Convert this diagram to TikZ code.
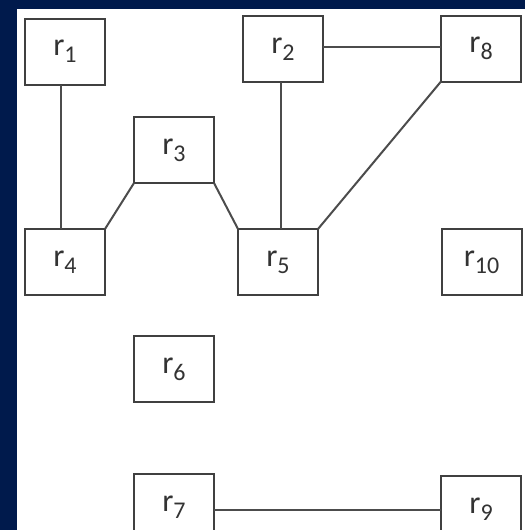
\documentclass[tikz,border=0pt]{standalone}
\usepackage{fontspec}
\setmainfont{Carlito}
\usepackage{tikz}
\definecolor{slideblue}{RGB}{0,26,76}
\newcommand{\rsub}[1]{r\raisebox{-0.45ex}{\fontsize{12}{14}\selectfont #1}}

\begin{document}
\begin{tikzpicture}[
			x=0.5pt, y=-0.5pt,
			R/.style = {rectangle, draw=black!75, line width=1pt,% region boxes
				fill=white, minimum width=40pt, minimum height=33pt,
				inner sep=0pt, outer sep=0pt,
				font=\fontsize{16}{18}\selectfont, text=black!80},
			L/.style = {draw=black!70, line width=1pt},
			]
			\useasboundingbox (0,0) rectangle (525,530);
			\clip (0,0) rectangle (525,530);
			\fill[slideblue] (0,0) rectangle (525,530);
			\fill[white] (17,9) rectangle (530,535);
			% boxes
			\foreach \n/\x/\y in {1/65/51.5, 2/283/49, 3/174/150, 8/481/48.5,
				4/65/262, 5/278/262, 10/481.5/262, 6/174/369, 7/174/507, 9/481/509}
			\node[R] (r\n) at (\x,\y) {\rsub{\n}};
			% links
			\draw[L] ([xshift=-2pt]r1.south) -- ([xshift=-2pt]r4.north);
			\draw[L] (r4.north east) -- (r3.south west);
			\draw[L] (r3.south east) -- (r5.north west);
			\draw[L] ([xshift=-1pt]r2.south) -- ([xshift=-1pt]r2.south |- r5.north);
			\draw[L] (r8.south west) -- (r5.north east);
			\draw[L] ([yshift=1pt]r2.east) -- ([yshift=1pt]r2.east -| r8.west);
			\draw[L] ([yshift=-1.5pt]r7.east) -- ([yshift=-1.5pt]r7.east -| r9.west);
		\end{tikzpicture}
\end{document}
